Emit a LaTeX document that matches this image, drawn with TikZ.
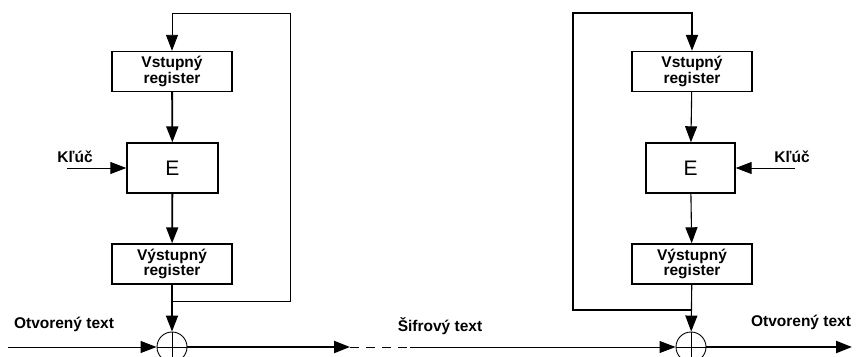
\documentclass[tikz,border=0pt]{standalone}
\usepackage{fontspec}
\setmainfont{Liberation Sans}
\usetikzlibrary{arrows.meta}

\tikzset{
  >={Triangle[length=16pt 0,width=12pt 0]},
  reg/.style={draw,line width=1.4pt,minimum width=120pt,minimum height=40pt,
    inner sep=0pt,align=center,font=\fontsize{15.5}{15.5}\selectfont\bfseries},
  encbox/.style={draw,line width=1.4pt,minimum height=50pt,inner sep=0pt,
    font=\fontsize{21}{21}\selectfont},
  xorop/.style={draw,circle,line width=0.9pt,minimum size=30pt,inner sep=0pt,
    path picture={\draw[line width=0.9pt]
      (path picture bounding box.north) -- (path picture bounding box.south)
      (path picture bounding box.west) -- (path picture bounding box.east);}},
  lbl/.style={inner sep=0pt,font=\fontsize{15.5}{15.5}\selectfont\bfseries}
}

\begin{document}
\begin{tikzpicture}[x=1pt,y=-1pt]
  \useasboundingbox (0,0) rectangle (856,356);

  % encryption side
  \node[reg] (inL) at (172,71.5) {Vstupný\\register};
  \node[encbox,minimum width=91pt] (eL) at (172.5,168) {E};
  \node[reg] (outL) at (172,264) {Výstupný\\register};
  \node[xorop] (xL) at (172,347) {};
  \coordinate (jL) at (172,301);
  \coordinate (kL) at (67,168);
  \coordinate (pL) at (8,347);
  \node[lbl] (keyL) at (75,157) {Kľúč};
  \node[lbl] (ptL) at (64,324) {Otvorený text};

  \draw[->,line width=1.8pt] (inL) -- (eL);
  \draw[->,line width=1.8pt] (eL) -- (outL);
  \draw[->,line width=1.8pt] (outL) -- (xL);
  \draw[->,line width=0.9pt] (jL) -| (290,13) -| (inL.north);
  \draw[->,line width=1pt] (kL) -- (eL.west);
  \draw[->,line width=0.9pt] (pL) -- (xL.west);

  % channel
  \coordinate (cA) at (350,347);
  \coordinate (cB) at (410,347);
  \node[lbl] (ctx) at (440,326) {Šifrový text};
  \draw[->,line width=2.2pt] (xL.east) -- (cA);
  \draw[line width=1pt,dash pattern=on 9pt off 7pt] (cA) -- (cB);

  % decryption side
  \node[reg] (inR) at (692,71.5) {Vstupný\\register};
  \node[encbox,minimum width=89pt] (eR) at (690.5,168) {E};
  \node[reg] (outR) at (692,264) {Výstupný\\register};
  \node[xorop] (xR) at (691,347) {};
  \coordinate (jR) at (692,310);
  \coordinate (kR) at (795,168);
  \coordinate (pR) at (852,347);
  \node[lbl] (keyR) at (792,157) {Kľúč};
  \node[lbl] (ptR) at (801,322) {Otvorený text};

  \draw[->,line width=1.1pt] (inR) -- (eR);
  \draw[->,line width=1.1pt] (eR) -- (outR);
  \draw[->,line width=1.1pt] (outR) -- (xR);
  \draw[->,line width=2pt] (jR) -| (573,13) -| (inR.north);
  \draw[->,line width=1pt] (kR) -- (eR.east);
  \draw[->,line width=0.9pt] (cB) -- (xR.west);
  \draw[->,line width=2.2pt] (xR.east) -- (pR);
\end{tikzpicture}
\end{document}
